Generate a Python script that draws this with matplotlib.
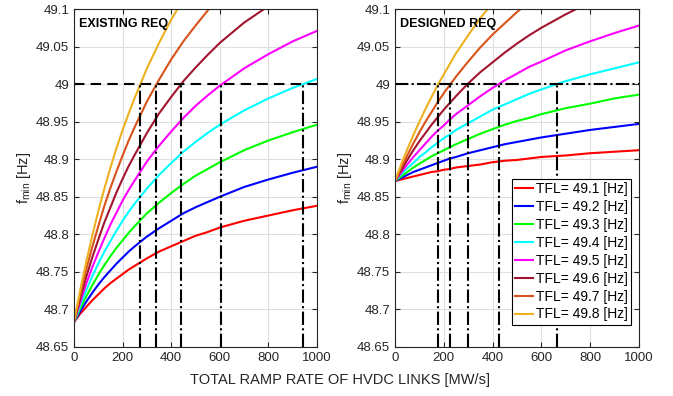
import numpy as np
import matplotlib
matplotlib.use('Agg')
import matplotlib.pyplot as plt

plt.rcParams['font.family'] = ['Liberation Sans', 'DejaVu Sans']
plt.rcParams['mathtext.fontset'] = 'custom'
plt.rcParams['mathtext.rm'] = 'Liberation Sans'

# ramp rate [MW/s]
ramp = [0, 25, 50, 75, 100, 125, 150, 175, 200, 225, 250, 300, 350, 400, 450, 500, 550, 600, 700, 800, 900, 1000]

# EXISTING REQ, f_min [Hz] for each TFL
ex_491 = [48.683, 48.694, 48.703, 48.712, 48.720, 48.728, 48.735, 48.741, 48.747, 48.753, 48.758, 48.768, 48.777, 48.784, 48.791, 48.798, 48.803, 48.809, 48.818, 48.825, 48.832, 48.838]
ex_492 = [48.683, 48.697, 48.710, 48.722, 48.733, 48.743, 48.752, 48.761, 48.769, 48.777, 48.784, 48.797, 48.808, 48.818, 48.828, 48.836, 48.843, 48.850, 48.863, 48.873, 48.882, 48.890]
ex_493 = [48.683, 48.701, 48.717, 48.732, 48.746, 48.759, 48.771, 48.782, 48.792, 48.802, 48.811, 48.828, 48.842, 48.855, 48.867, 48.878, 48.887, 48.896, 48.912, 48.925, 48.936, 48.946]
ex_494 = [48.683, 48.705, 48.725, 48.744, 48.761, 48.777, 48.791, 48.805, 48.818, 48.830, 48.841, 48.861, 48.879, 48.895, 48.910, 48.923, 48.935, 48.946, 48.965, 48.981, 48.995, 49.007]
ex_495 = [48.683, 48.709, 48.734, 48.756, 48.776, 48.795, 48.813, 48.829, 48.845, 48.859, 48.872, 48.897, 48.918, 48.937, 48.955, 48.971, 48.985, 48.998, 49.021, 49.040, 49.057, 49.071]
ex_496 = [48.683, 48.714, 48.743, 48.769, 48.793, 48.816, 48.836, 48.856, 48.874, 48.891, 48.906, 48.935, 48.961, 48.983, 49.004, 49.022, 49.039, 49.055, 49.082, 49.104, 49.124, 49.141]
ex_497 = [48.683, 48.719, 48.753, 48.783, 48.811, 48.838, 48.862, 48.884, 48.905, 48.925, 48.943, 48.977, 49.006, 49.033, 49.057, 49.078, 49.098, 49.116, 49.147, 49.174, 49.197, 49.217]
ex_498 = [48.683, 48.725, 48.763, 48.798, 48.831, 48.861, 48.889, 48.915, 48.939, 48.961, 48.982, 49.021, 49.055, 49.086, 49.113, 49.138, 49.160, 49.181, 49.217, 49.248, 49.274, 49.297]

# DESIGNED REQ
de_491 = [48.871, 48.873, 48.875, 48.877, 48.879, 48.881, 48.883, 48.884, 48.886, 48.887, 48.889, 48.891, 48.893, 48.896, 48.898, 48.899, 48.901, 48.903, 48.905, 48.908, 48.910, 48.912]
de_492 = [48.871, 48.875, 48.879, 48.883, 48.886, 48.889, 48.892, 48.895, 48.898, 48.901, 48.903, 48.908, 48.912, 48.916, 48.920, 48.923, 48.926, 48.929, 48.934, 48.939, 48.943, 48.947]
de_493 = [48.871, 48.877, 48.883, 48.889, 48.894, 48.899, 48.904, 48.908, 48.912, 48.916, 48.920, 48.927, 48.934, 48.940, 48.946, 48.951, 48.955, 48.960, 48.968, 48.974, 48.981, 48.986]
de_494 = [48.871, 48.880, 48.888, 48.895, 48.903, 48.909, 48.916, 48.922, 48.928, 48.933, 48.939, 48.948, 48.957, 48.966, 48.973, 48.980, 48.987, 48.993, 49.004, 49.013, 49.021, 49.029]
de_495 = [48.871, 48.882, 48.893, 48.903, 48.912, 48.921, 48.930, 48.938, 48.945, 48.953, 48.960, 48.972, 48.984, 48.995, 49.005, 49.014, 49.023, 49.030, 49.045, 49.057, 49.068, 49.078]
de_496 = [48.871, 48.885, 48.899, 48.912, 48.924, 48.935, 48.946, 48.956, 48.966, 48.975, 48.984, 49.001, 49.016, 49.029, 49.042, 49.054, 49.065, 49.075, 49.093, 49.109, 49.123, 49.135]
de_497 = [48.871, 48.889, 48.905, 48.921, 48.936, 48.950, 48.963, 48.976, 48.988, 48.999, 49.010, 49.030, 49.049, 49.066, 49.081, 49.096, 49.109, 49.121, 49.143, 49.163, 49.180, 49.195]
de_498 = [48.871, 48.893, 48.913, 48.932, 48.950, 48.967, 48.983, 48.999, 49.013, 49.027, 49.041, 49.065, 49.088, 49.108, 49.127, 49.145, 49.161, 49.176, 49.203, 49.227, 49.248, 49.267]

# ramp rates where f_min reaches 49 Hz
ex_cross = [272, 339, 440, 604, 944]
de_cross = [177, 227, 298, 425, 664]
f_req = 49

tfl_labels = ['TFL= 49.1 [Hz]', 'TFL= 49.2 [Hz]', 'TFL= 49.3 [Hz]', 'TFL= 49.4 [Hz]',
              'TFL= 49.5 [Hz]', 'TFL= 49.6 [Hz]', 'TFL= 49.7 [Hz]', 'TFL= 49.8 [Hz]']
colors = ['#FF0000', '#0000FF', '#00FF00', '#00FFFF', '#FF00FF', '#A2142F', '#D95319', '#EDB120']

existing = [ex_491, ex_492, ex_493, ex_494, ex_495, ex_496, ex_497, ex_498]
designed = [de_491, de_492, de_493, de_494, de_495, de_496, de_497, de_498]

fig = plt.figure(figsize=(6.73, 3.96), dpi=100)
ax1 = fig.add_axes([0.110, 0.124, 0.361, 0.853])
ax2 = fig.add_axes([0.587, 0.124, 0.362, 0.853])

def setup(ax, curves, cross, title, hstyle):
    for y, c, lab in zip(curves, colors, tfl_labels):
        ax.plot(ramp, y, color=c, lw=1.5, label=lab)
    ax.plot([0, 1000], [f_req, f_req], color='k', lw=1.5, linestyle=hstyle)
    for r in cross:
        ax.plot([r, r], [48.65, f_req], color='k', lw=1.5, linestyle='-.')
    ax.set_xlim(0, 1000)
    ax.set_ylim(48.65, 49.1)
    ax.set_xticks([0, 200, 400, 600, 800, 1000])
    yt = np.arange(48.65, 49.1001, 0.05)
    ax.set_yticks(yt)
    ax.set_yticklabels(['%g' % round(v, 2) for v in yt])
    ax.grid(True, color='#DFDFDF', lw=0.8)
    ax.set_axisbelow(True)
    ax.tick_params(direction='in', top=True, right=True, labelsize=9.5,
                   colors='#262626', length=3.5, width=0.8)
    for s in ax.spines.values():
        s.set_color('#262626')
        s.set_linewidth(0.8)
    ax.set_ylabel(r'f$_{\rm min}$ [Hz]', fontsize=10.5, color='#262626', labelpad=2)
    ax.text(0.02, 0.975, title, transform=ax.transAxes, fontsize=9,
            fontweight='bold', va='top', ha='left')

setup(ax1, existing, ex_cross, 'EXISTING REQ', (0, (5, 3)))
setup(ax2, designed, de_cross, 'DESIGNED REQ', '-.')

leg = ax2.legend(loc='lower right', bbox_to_anchor=(0.97, 0.065), fontsize=10,
                 frameon=True, fancybox=False, edgecolor='k', framealpha=1,
                 handlelength=1.3, handletextpad=0.2, labelspacing=0.28,
                 borderpad=0.25, borderaxespad=0)
leg.get_frame().set_linewidth(0.8)

fig.text(0.505, 0.03, 'TOTAL RAMP RATE OF HVDC LINKS [MW/s]', ha='center',
         fontsize=10.5, color='#262626')

fig.savefig('out.png', dpi=100)
